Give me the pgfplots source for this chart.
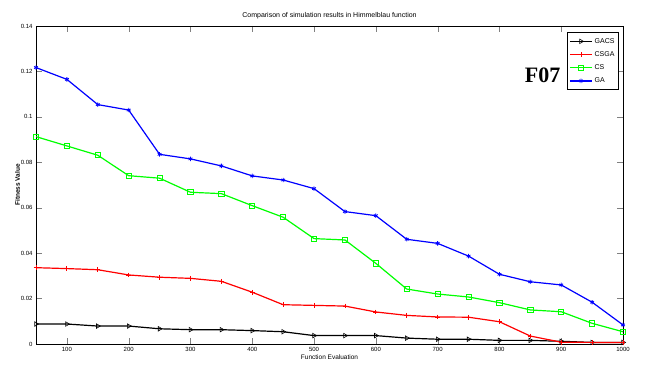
\documentclass[border=0pt]{standalone}
\usepackage{pgfplots}
\pgfplotsset{compat=1.18}
\usepackage{fontspec}
\setmainfont{Liberation Sans}
\newfontfamily\seriffont{Liberation Serif}
\begin{document}
\begin{tikzpicture}
\useasboundingbox (0,0) rectangle (647pt,375pt);
\begin{axis}[
  at={(36pt,31pt)}, anchor=south west,
  scale only axis, width=587pt, height=318pt,
  xmin=50, xmax=1000, ymin=0, ymax=0.14,
  xtick={100,200,...,1000},
  ytick={0,0.02,0.04,0.06,0.08,0.1,0.12,0.14},
  xticklabel style={/pgf/number format/1000 sep={}},
  yticklabel style={/pgf/number format/fixed,/pgf/number format/precision=2},
  scaled y ticks=false,
  /pgf/number format/assume math mode=true,
  tick label style={font=\fontsize{6}{7}\selectfont},
  tick align=inside, major tick length=6pt,
  xtick pos=both, ytick pos=both,
  xlabel={Function Evaluation}, ylabel={\textbf{Fitness Value}},
  label style={font=\fontsize{6.5}{7}\selectfont},
  xlabel style={yshift=4pt},
  ylabel style={yshift=-6pt},
  title={Comparison of simulation results in Himmelblau function},
  title style={font=\fontsize{7}{8}\selectfont, yshift=-2pt},
  legend style={at={(0.993,0.98)}, anchor=north east, font=\fontsize{7}{8}\selectfont, draw=black, line width=0.8pt, inner sep=2pt, nodes={inner ysep=3.4pt}},
  legend image code/.code={\draw[mark repeat=2,mark phase=2,line width=1.5pt,#1] plot coordinates {(0pt,0pt)(11pt,0pt)(22pt,0pt)};},
  legend cell align=left,
  every axis plot/.append style={line width=1.2pt},
]
\addplot[black, mark=triangle, mark options={rotate=-90, solid, line width=0.6pt, scale=1.3}] coordinates {
(50,0.0088)(100,0.0088)(150,0.0079)(200,0.0079)(250,0.0067)(300,0.0063)(350,0.0063)(400,0.0059)(450,0.0054)(500,0.0037)(550,0.0037)(600,0.0037)(650,0.0026)(700,0.0021)(750,0.0021)(800,0.0016)(850,0.0016)(900,0.0012)(950,0.0007)(1000,0.0007)};
\addlegendentry{GACS}
\addplot[color=red, mark=+, mark options={solid, line width=0.8pt, scale=1.2}] coordinates {
(50,0.0336)(100,0.0332)(150,0.0327)(200,0.0304)(250,0.0294)(300,0.0289)(350,0.0276)(400,0.0228)(450,0.0173)(500,0.0170)(550,0.0167)(600,0.0141)(650,0.0126)(700,0.0119)(750,0.0118)(800,0.0098)(850,0.0035)(900,0.0008)(950,0.0007)(1000,0.0007)};
\addlegendentry{CSGA}
\addplot[color=green, mark=square, mark options={solid, line width=0.8pt, scale=1.3}] coordinates {
(50,0.0913)(100,0.0872)(150,0.0831)(200,0.0741)(250,0.0730)(300,0.0668)(350,0.0662)(400,0.0609)(450,0.0558)(500,0.0464)(550,0.0458)(600,0.0355)(650,0.0242)(700,0.0220)(750,0.0207)(800,0.0182)(850,0.0150)(900,0.0142)(950,0.0091)(1000,0.0054)};
\addlegendentry{CS}
\addplot[color=blue, mark=asterisk, mark options={solid, line width=0.8pt, scale=1.1}] coordinates {
(50,0.1217)(100,0.1165)(150,0.1054)(200,0.1030)(250,0.0835)(300,0.0815)(350,0.0784)(400,0.0740)(450,0.0722)(500,0.0684)(550,0.0583)(600,0.0565)(650,0.0461)(700,0.0443)(750,0.0387)(800,0.0307)(850,0.0274)(900,0.0260)(950,0.0184)(1000,0.0084)};
\addlegendentry{GA}
\node[font=\seriffont\bfseries\fontsize{22}{24}\selectfont] at (axis cs:870,0.1185) {F07};
\end{axis}
\end{tikzpicture}
\end{document}
